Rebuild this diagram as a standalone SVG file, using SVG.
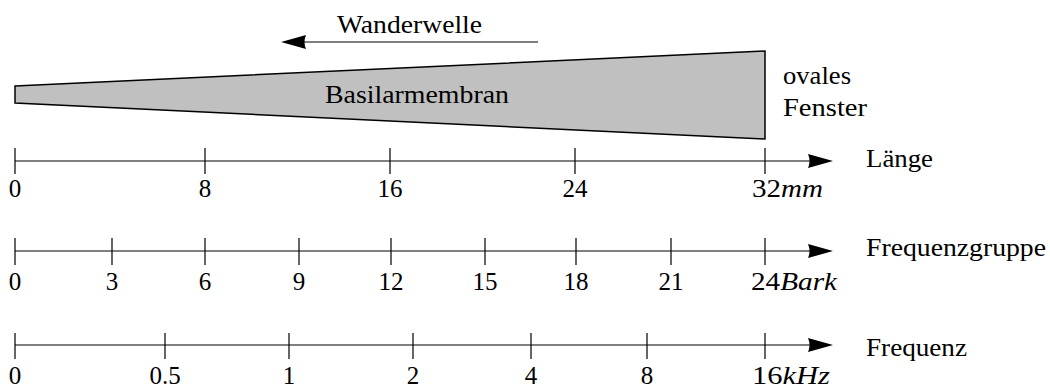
<svg xmlns="http://www.w3.org/2000/svg" width="1050" height="388" viewBox="0 0 1050 388" font-family="'Liberation Serif', 'DejaVu Serif', serif">
<style>
text{font-family:'Liberation Serif','DejaVu Serif',serif;font-size:25px;fill:#000}
.tk{text-anchor:middle}
.ax{stroke:#000;stroke-width:1.2;fill:none}
.tick{stroke:#000;stroke-width:1.2}
.it{font-style:italic}
</style>
<defs>
<path id="ah" d="M0,0 L-25,-7 Q-22,0 -25,7 Z" fill="#000"/>
</defs>
<g id="membrane">
<polygon points="15,86 765,51 765,139 15,103" fill="#c0c0c0" stroke="#000" stroke-width="1.5" stroke-linejoin="miter"/>
<text x="325" y="103" textLength="184" lengthAdjust="spacingAndGlyphs">Basilarmembran</text>
</g>
<g id="wave">
<line x1="538" y1="42" x2="295" y2="42" class="ax"/>
<use href="#ah" transform="translate(281,42) rotate(180)"/>
<text x="337" y="33" textLength="145" lengthAdjust="spacingAndGlyphs">Wanderwelle</text>
</g>
<g id="window">
<text x="783" y="84" textLength="68" lengthAdjust="spacingAndGlyphs">ovales</text>
<text x="783" y="116" textLength="84" lengthAdjust="spacingAndGlyphs">Fenster</text>
</g>
<g id="connectors">
<line x1="15" y1="161" x2="820" y2="161" class="ax"/>
<use href="#ah" transform="translate(833,161)"/>
<line x1="15" y1="251" x2="820" y2="251" class="ax"/>
<use href="#ah" transform="translate(833,251)"/>
<line x1="15" y1="345" x2="820" y2="345" class="ax"/>
<use href="#ah" transform="translate(833,345)"/>
</g>
<g id="axis-laenge">
<path class="tick" d="M15,148V174M205,148V174M390,148V174M575,148V174M765,148V174"/>
<text class="tk" x="15" y="197">0</text>
<text class="tk" x="205" y="197">8</text>
<text class="tk" x="390" y="197">16</text>
<text class="tk" x="575" y="197">24</text>
<text x="752" y="197" textLength="71" lengthAdjust="spacingAndGlyphs">32<tspan class="it">mm</tspan></text>
<text x="866" y="167" textLength="67" lengthAdjust="spacingAndGlyphs">Länge</text>
</g>
<g id="axis-bark">
<path class="tick" d="M15,238V265M112,238V265M205,238V265M299,238V265M391,238V265M485,238V265M576,238V265M671,238V265M765,238V265"/>
<text class="tk" x="15" y="290">0</text>
<text class="tk" x="112" y="290">3</text>
<text class="tk" x="205" y="290">6</text>
<text class="tk" x="299" y="290">9</text>
<text class="tk" x="391" y="290">12</text>
<text class="tk" x="485" y="290">15</text>
<text class="tk" x="576" y="290">18</text>
<text class="tk" x="671" y="290">21</text>
<text x="751" y="290" textLength="86" lengthAdjust="spacingAndGlyphs">24<tspan class="it">Bark</tspan></text>
<text x="866" y="256" textLength="180" lengthAdjust="spacingAndGlyphs">Frequenzgruppe</text>
</g>
<g id="axis-khz">
<path class="tick" d="M15,333V359M165,333V359M289,333V359M413,333V359M531,333V359M647,333V359M765,333V359"/>
<text class="tk" x="15" y="384">0</text>
<text class="tk" x="165" y="384">0.5</text>
<text class="tk" x="289" y="384">1</text>
<text class="tk" x="413" y="384">2</text>
<text class="tk" x="531" y="384">4</text>
<text class="tk" x="647" y="384">8</text>
<text x="752" y="384" textLength="78" lengthAdjust="spacingAndGlyphs">16<tspan class="it">kHz</tspan></text>
<text x="866" y="356" textLength="101" lengthAdjust="spacingAndGlyphs">Frequenz</text>
</g>
</svg>
